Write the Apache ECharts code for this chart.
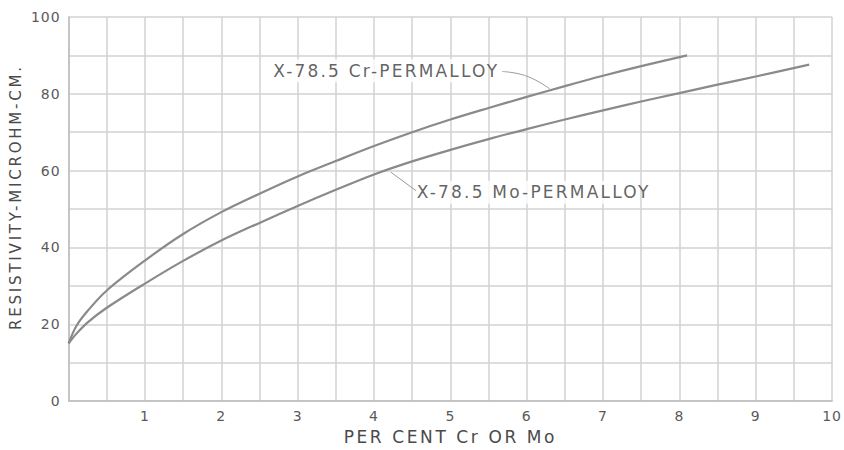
<!DOCTYPE html>
<html><head><meta charset="utf-8">
<script src="https://cdn.jsdelivr.net/npm/echarts@6/dist/echarts.min.js"></script>
<style>
html,body{margin:0;padding:0;background:#fff}#c{width:844px;height:450px}
#c text[fill="#3a3a3a"]{letter-spacing:2.2px}
#c text[fill="#4a4a4a"]{letter-spacing:2.6px}
#c text[fill="#4a4a4b"]{letter-spacing:2.8px}
#c text[fill="#5a5a5a"]{letter-spacing:1px}
</style>
</head><body><div id="c"></div>
<script>
// Cr-Permalloy curve [percent, resistivity]
const crX = [0, 0.1, 0.25, 0.5, 1, 1.5, 2, 2.5, 3, 3.5, 4, 4.5, 5, 5.5, 6, 6.5, 7, 7.5, 8.1];
const crY = [15, 19.5, 23.5, 28.8, 36.6, 43.5, 49.2, 54.0, 58.5, 62.5, 66.4, 70.0, 73.3, 76.3, 79.2, 82.0, 84.7, 87.2, 90];
// Mo-Permalloy curve
const moX = [0, 0.1, 0.25, 0.5, 1, 1.5, 2, 2.5, 3, 3.5, 4, 4.5, 5, 5.5, 6, 6.5, 7, 7.5, 8, 8.5, 9, 9.7];
const moY = [15, 17.5, 20.5, 24.3, 30.6, 36.5, 41.8, 46.4, 50.8, 55.0, 59.0, 62.4, 65.4, 68.2, 70.8, 73.3, 75.7, 78.0, 80.2, 82.4, 84.5, 87.6];
const seriesNames = ['X-78.5 Cr-PERMALLOY', 'X-78.5 Mo-PERMALLOY'];
// label anchors (data coords, label centre) and leader lines
const labelAnchor = [[4.16, 86], [6.09, 54.4]];
const crLeader = [[5.68, 85.8], [6.0, 84.6], [6.3, 81.3]];
const moLeader = [[4.55, 54.8], [4.22, 59.6]];
const xTicks = [1, 2, 3, 4, 5, 6, 7, 8, 9, 10];
const yTicks = [0, 20, 40, 60, 80, 100];

const zip = (a, b) => a.map((v, i) => [v, b[i]]);
const chart = echarts.init(document.getElementById('c'), null, { renderer: 'svg' });
const lineCol = '#8a8a8a';
const font = 'DejaVu Sans';
chart.setOption({
  animation: false,
  grid: { left: 64, right: 8, top: 17, bottom: 47 },
  xAxis: {
    type: 'value', min: 0, max: 10, interval: 0.5,
    name: 'PER CENT Cr OR Mo', nameLocation: 'middle', nameGap: 25,
    nameTextStyle: { color: '#4a4a4a', fontSize: 17, fontFamily: font },
    axisLine: { show: true, lineStyle: { color: '#bdbdbd', width: 1.5 } },
    axisTick: { show: false },
    axisLabel: { color: '#5a5a5a', fontSize: 14, fontFamily: font, margin: 8,
      formatter: v => xTicks.includes(v) ? String(v) : '' },
    splitLine: { show: true, lineStyle: { color: '#d2d2d2', width: 1.5 } }
  },
  yAxis: {
    type: 'value', min: 0, max: 100, interval: 10,
    name: 'RESISTIVITY-MICROHM-CM.', nameLocation: 'middle', nameGap: 40, nameRotate: 90,
    nameTextStyle: { color: '#4a4a4b', fontSize: 15, fontFamily: font, padding: [0, 0, 0, 24] },
    axisLine: { show: true, lineStyle: { color: '#bdbdbd', width: 1.5 } },
    axisTick: { show: false },
    axisLabel: { color: '#5a5a5a', fontSize: 14, fontFamily: font, margin: 8,
      formatter: v => yTicks.includes(v) ? String(v) : '' },
    splitLine: { show: true, lineStyle: { color: '#d2d2d2', width: 1.5 } }
  },
  series: [
    { name: seriesNames[0], type: 'line', smooth: 0.35, showSymbol: false,
      data: zip(crX, crY), lineStyle: { color: lineCol, width: 2.2 } },
    { name: seriesNames[1], type: 'line', smooth: 0.35, showSymbol: false,
      data: zip(moX, moY), lineStyle: { color: lineCol, width: 2.2 } },
    { type: 'line', smooth: true, showSymbol: false, data: crLeader, silent: true,
      lineStyle: { color: '#9a9a9a', width: 1 } },
    { type: 'line', showSymbol: false, data: moLeader, silent: true,
      lineStyle: { color: '#9a9a9a', width: 1 } },
    { type: 'scatter', symbolSize: 0, silent: true, z: 5,
      data: labelAnchor.map((p, i) => ({ value: p, label: {
        show: true, position: 'inside', formatter: seriesNames[i],
        color: '#3a3a3a', fontSize: 17, fontFamily: font, backgroundColor: '#fff', padding: [3, 4]
      } })) }
  ]
});
</script></body></html>
